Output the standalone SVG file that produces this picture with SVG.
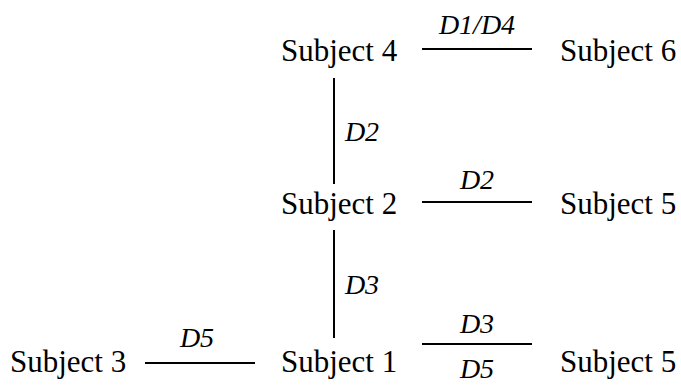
<svg xmlns="http://www.w3.org/2000/svg" width="681" height="385" viewBox="0 0 681 385">
<style>
.n{font-family:"Liberation Serif","Times New Roman",serif;font-size:31px;fill:#000}
.l{font-family:"Liberation Serif","Times New Roman",serif;font-size:28px;font-style:italic;fill:#000;text-anchor:middle}
.c{stroke:#000;stroke-width:2;fill:none}
</style>
<rect width="681" height="385" fill="#fff"/>
<g id="connectors">
<line class="c" x1="422" y1="49" x2="532" y2="49"/>
<text class="l" x="477" y="34">D1/D4</text>
<line class="c" x1="334" y1="78" x2="334" y2="184"/>
<text class="l" x="362" y="141">D2</text>
<line class="c" x1="422" y1="202" x2="532" y2="202"/>
<text class="l" x="477" y="189">D2</text>
<line class="c" x1="334" y1="230" x2="334" y2="338"/>
<text class="l" x="362" y="294">D3</text>
<line class="c" x1="145" y1="363" x2="255" y2="363"/>
<text class="l" x="197" y="347">D5</text>
<line class="c" x1="422" y1="344" x2="532" y2="344"/>
<text class="l" x="477" y="333">D3</text>
<text class="l" x="477" y="378">D5</text>
</g>
<g id="subject4"><text class="n" x="281" y="61">Subject 4</text></g>
<g id="subject6"><text class="n" x="560" y="61">Subject 6</text></g>
<g id="subject2"><text class="n" x="281" y="214">Subject 2</text></g>
<g id="subject5a"><text class="n" x="560" y="214">Subject 5</text></g>
<g id="subject3"><text class="n" x="10" y="372">Subject 3</text></g>
<g id="subject1"><text class="n" x="281" y="372">Subject 1</text></g>
<g id="subject5b"><text class="n" x="560" y="372">Subject 5</text></g>
</svg>
